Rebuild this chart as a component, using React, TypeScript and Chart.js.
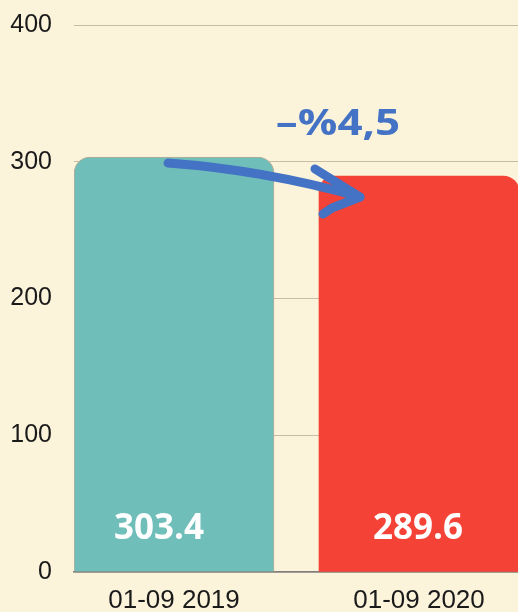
import React, { useEffect, useRef } from "react";
import { Chart, registerables } from "chart.js";

Chart.register(...registerables);

const categories = ["01-09 2019", "01-09 2020"];
const values = [303.4, 289.6];
const valueLabels = ["303.4", "289.6"];
const changeLabel = "–%4,5";
const yTicks = [0, 100, 200, 300, 400];
const barColors = ["#6fbeb9", "#f44336"];

const BG = "#fbf3da";
const BLUE = "#4472c4";

const annotatePlugin = {
  id: "annotate",
  afterDatasetsDraw(chart: any) {
    const ctx = chart.ctx;
    const meta = chart.getDatasetMeta(0);
    const b1 = meta.data[0];
    const b2 = meta.data[1];
    const y0 = chart.scales.y.getPixelForValue(0);
    ctx.save();
    // value labels
    ctx.fillStyle = "#ffffff";
    ctx.font = "bold 35px 'Open Sans'";
    ctx.textAlign = "center";
    ctx.textBaseline = "alphabetic";
    valueLabels.forEach((t, i) => {
      const el = meta.data[i];
      ctx.fillText(t, el.x + (i === 0 ? -15 : -1), y0 - 33);
    });
    // arrow
    const sx = b1.x - 6;
    const sy = b1.y + 6;
    const ex = b2.x - b2.width / 2 + 41;
    const ey = b2.y + 21;
    ctx.strokeStyle = BLUE;
    ctx.lineWidth = 9;
    ctx.lineCap = "round";
    ctx.lineJoin = "round";
    ctx.beginPath();
    ctx.moveTo(sx, sy);
    ctx.quadraticCurveTo((sx + ex) / 2, (sy + ey) / 2 - 10, ex, ey);
    ctx.stroke();
    ctx.beginPath();
    ctx.moveTo(ex - 45, ey - 28);
    ctx.lineTo(ex, ey);
    ctx.lineTo(ex - 28, ey + 11);
    ctx.lineTo(ex - 37, ey + 17);
    ctx.stroke();
    // change label (horizontally stretched like the reference)
    ctx.fillStyle = BLUE;
    ctx.font = "bold 36px 'Open Sans'";
    ctx.textAlign = "center";
    ctx.textBaseline = "alphabetic";
    const cx = b2.x - b2.width / 2 + 19;
    ctx.translate(cx, b1.y - 22);
    ctx.scale(1.22, 1);
    ctx.fillText(changeLabel, 0, 0);
    ctx.restore();
  },
};

export default function App() {
  const ref = useRef<HTMLCanvasElement | null>(null);
  useEffect(() => {
    document.body.style.margin = "0";
    document.body.style.overflow = "hidden";
    document.body.style.background = BG;
    const canvas = ref.current!;
    const chart = new Chart(canvas, {
      type: "bar",
      data: {
        datasets: [
          {
            data: values.map((v, i) => ({ x: i, y: v })),
            backgroundColor: barColors,
            borderColor: ["#b9ad94", "#f2583f"],
            borderWidth: [1, 0],
            borderSkipped: "bottom",
            borderRadius: { topLeft: 16, topRight: 16, bottomLeft: 0, bottomRight: 0 },
            barThickness: 200,
          },
        ],
      },
      options: {
        responsive: false,
        animation: false,
        devicePixelRatio: 1,
        layout: { padding: { left: 9, right: 0, top: 25, bottom: 0 } },
        plugins: {
          legend: { display: false },
          tooltip: { enabled: false },
        },
        scales: {
          x: {
            type: "linear",
            offset: false,
            min: -100 / 245,
            max: 1 + 99 / 245,
            afterBuildTicks: (s: any) => {
              s.ticks = categories.map((_, i) => ({ value: i }));
            },
            afterFit: (s: any) => {
              s.height = 50;
            },
            grid: { display: false, drawTicks: false, offset: false },
            border: { display: true, color: "#7f7f7f", width: 1.5 },
            ticks: {
              autoSkip: false,
              maxRotation: 0,
              padding: 13,
              color: "#1a1a1a",
              font: { family: "'Liberation Sans', Arial", size: 26 },
              callback: (v: any) => categories[v] ?? "",
            },
          },
          y: {
            min: 0,
            max: 400,
            afterBuildTicks: (s: any) => {
              s.ticks = yTicks.map((v) => ({ value: v }));
            },
            afterFit: (s: any) => {
              s.width = 65;
              s.paddingTop = 0;
              s.paddingBottom = 0;
            },
            grid: { color: "#c8bda2", lineWidth: 1, drawTicks: false },
            border: { display: false },
            ticks: {
              padding: 22,
              color: "#1a1a1a",
              font: { family: "'Liberation Sans', Arial", size: 25 },
            },
          },
        },
      },
      plugins: [annotatePlugin],
    } as any);
    return () => chart.destroy();
  }, []);
  return (
    <div style={{ width: 518, height: 612, overflow: "hidden", background: BG, position: "relative" }}>
      <canvas ref={ref} width={518} height={622} style={{ width: 518, height: 622, display: "block" }} />
    </div>
  );
}
